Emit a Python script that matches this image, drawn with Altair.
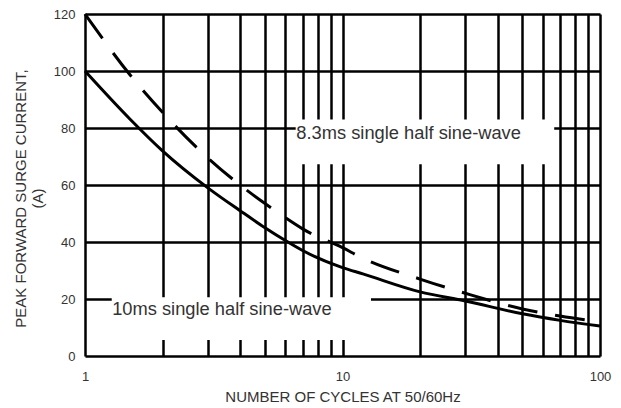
import altair as alt
import pandas as pd

# ---- data ----
cycles = [1, 1.5, 2, 3, 4, 5, 6, 7, 10, 12, 20, 30, 50, 70, 100]
surge_10ms = [100, 83, 72, 59, 51, 45, 40.5, 37, 31, 28.8, 22.5, 19.3, 14.8, 12.5, 10.5]
surge_8_3ms = [120, 98.5, 85.5, 69.5, 60, 53.5, 48.5, 44.6, 38, 34.3, 27, 22, 16.5, 14, 12]

grid_x = [1, 2, 3, 4, 5, 6, 7, 8, 9, 10, 20, 30, 40, 50, 60, 70, 80, 90, 100]
grid_y = [0, 20, 40, 60, 80, 100, 120]

label_text = ["8.3ms single half sine-wave", "10ms single half sine-wave"]
label_x = [6.62, 1.275]
label_y = [76.0, 14.3]
box_x1 = [6.58, 1.27]
box_x2 = [66.4, 12.9]
box_y1 = [67.3, 5.6]
box_y2 = [83.0, 20.6]

FONT = "Liberation Sans"
TXT = "#333333"

df_10 = pd.DataFrame({"cycles": cycles, "surge": surge_10ms})
df_83 = pd.DataFrame({"cycles": cycles, "surge": surge_8_3ms})
df_lab = pd.DataFrame({"text": label_text, "x": label_x, "y": label_y,
                       "x1": box_x1, "x2": box_x2, "y1": box_y1, "y2": box_y2})

xscale = alt.Scale(type="log", domain=[1, 100], nice=False)
yscale = alt.Scale(domain=[0, 120], nice=False, zero=True)

xaxis = alt.Axis(
    values=grid_x, grid=True, gridColor="black", gridWidth=2.5, gridOpacity=1,
    ticks=False, domain=False, labelFlush=False, labelOverlap=False,
    labelExpr="(datum.value == 1 || datum.value == 10 || datum.value == 100) ? datum.label : ''",
    labelFontSize=13, labelColor=TXT, labelPadding=14, labelFont=FONT,
    title="NUMBER OF CYCLES AT 50/60Hz", titleFontSize=15, titleFontWeight="normal",
    titleColor=TXT, titleFont=FONT, titleY=33, titleBaseline="top",
)
yaxis = alt.Axis(
    values=grid_y, grid=True, gridColor="black", gridWidth=2.5, gridOpacity=1,
    ticks=False, domain=False, labelFontSize=13, labelColor=TXT, labelPadding=10,
    labelFont=FONT,
    title=["PEAK FORWARD SURGE CURRENT,", "(A)"], titleFontSize=15,
    titleFontWeight="normal", titleColor=TXT, titleFont=FONT,
    titleX=-60, titleY=184, titleBaseline="alphabetic", titleAlign="center",
    titleLineHeight=17,
)

boxes = alt.Chart(df_lab).mark_rect(color="white").encode(
    x=alt.X("x1:Q", scale=xscale, axis=xaxis),
    x2="x2:Q",
    y=alt.Y("y1:Q", scale=yscale, axis=yaxis),
    y2="y2:Q",
)

texts = alt.Chart(df_lab).mark_text(
    align="left", baseline="alphabetic", fontSize=18.3, font=FONT, color=TXT
).encode(
    x=alt.X("x:Q", scale=xscale),
    y=alt.Y("y:Q", scale=yscale),
    text="text:N",
)

line_10 = alt.Chart(df_10).mark_line(
    color="black", strokeWidth=3, interpolate="monotone"
).encode(
    x=alt.X("cycles:Q", scale=xscale),
    y=alt.Y("surge:Q", scale=yscale),
)

line_83 = alt.Chart(df_83).mark_line(
    color="black", strokeWidth=3, interpolate="monotone",
    strokeDash=[30, 18], strokeCap="butt"
).encode(
    x=alt.X("cycles:Q", scale=xscale),
    y=alt.Y("surge:Q", scale=yscale),
)

chart = alt.layer(boxes, texts, line_10, line_83).properties(
    width=515, height=342,
    autosize=alt.AutoSizeParams(type="none"),
    padding={"left": 77, "top": 6, "right": 13, "bottom": 52},
    background="white",
).configure_view(
    stroke="black", strokeWidth=3
).configure(font=FONT)

chart.save("out.html", embed_options={"renderer": "svg", "actions": False})
